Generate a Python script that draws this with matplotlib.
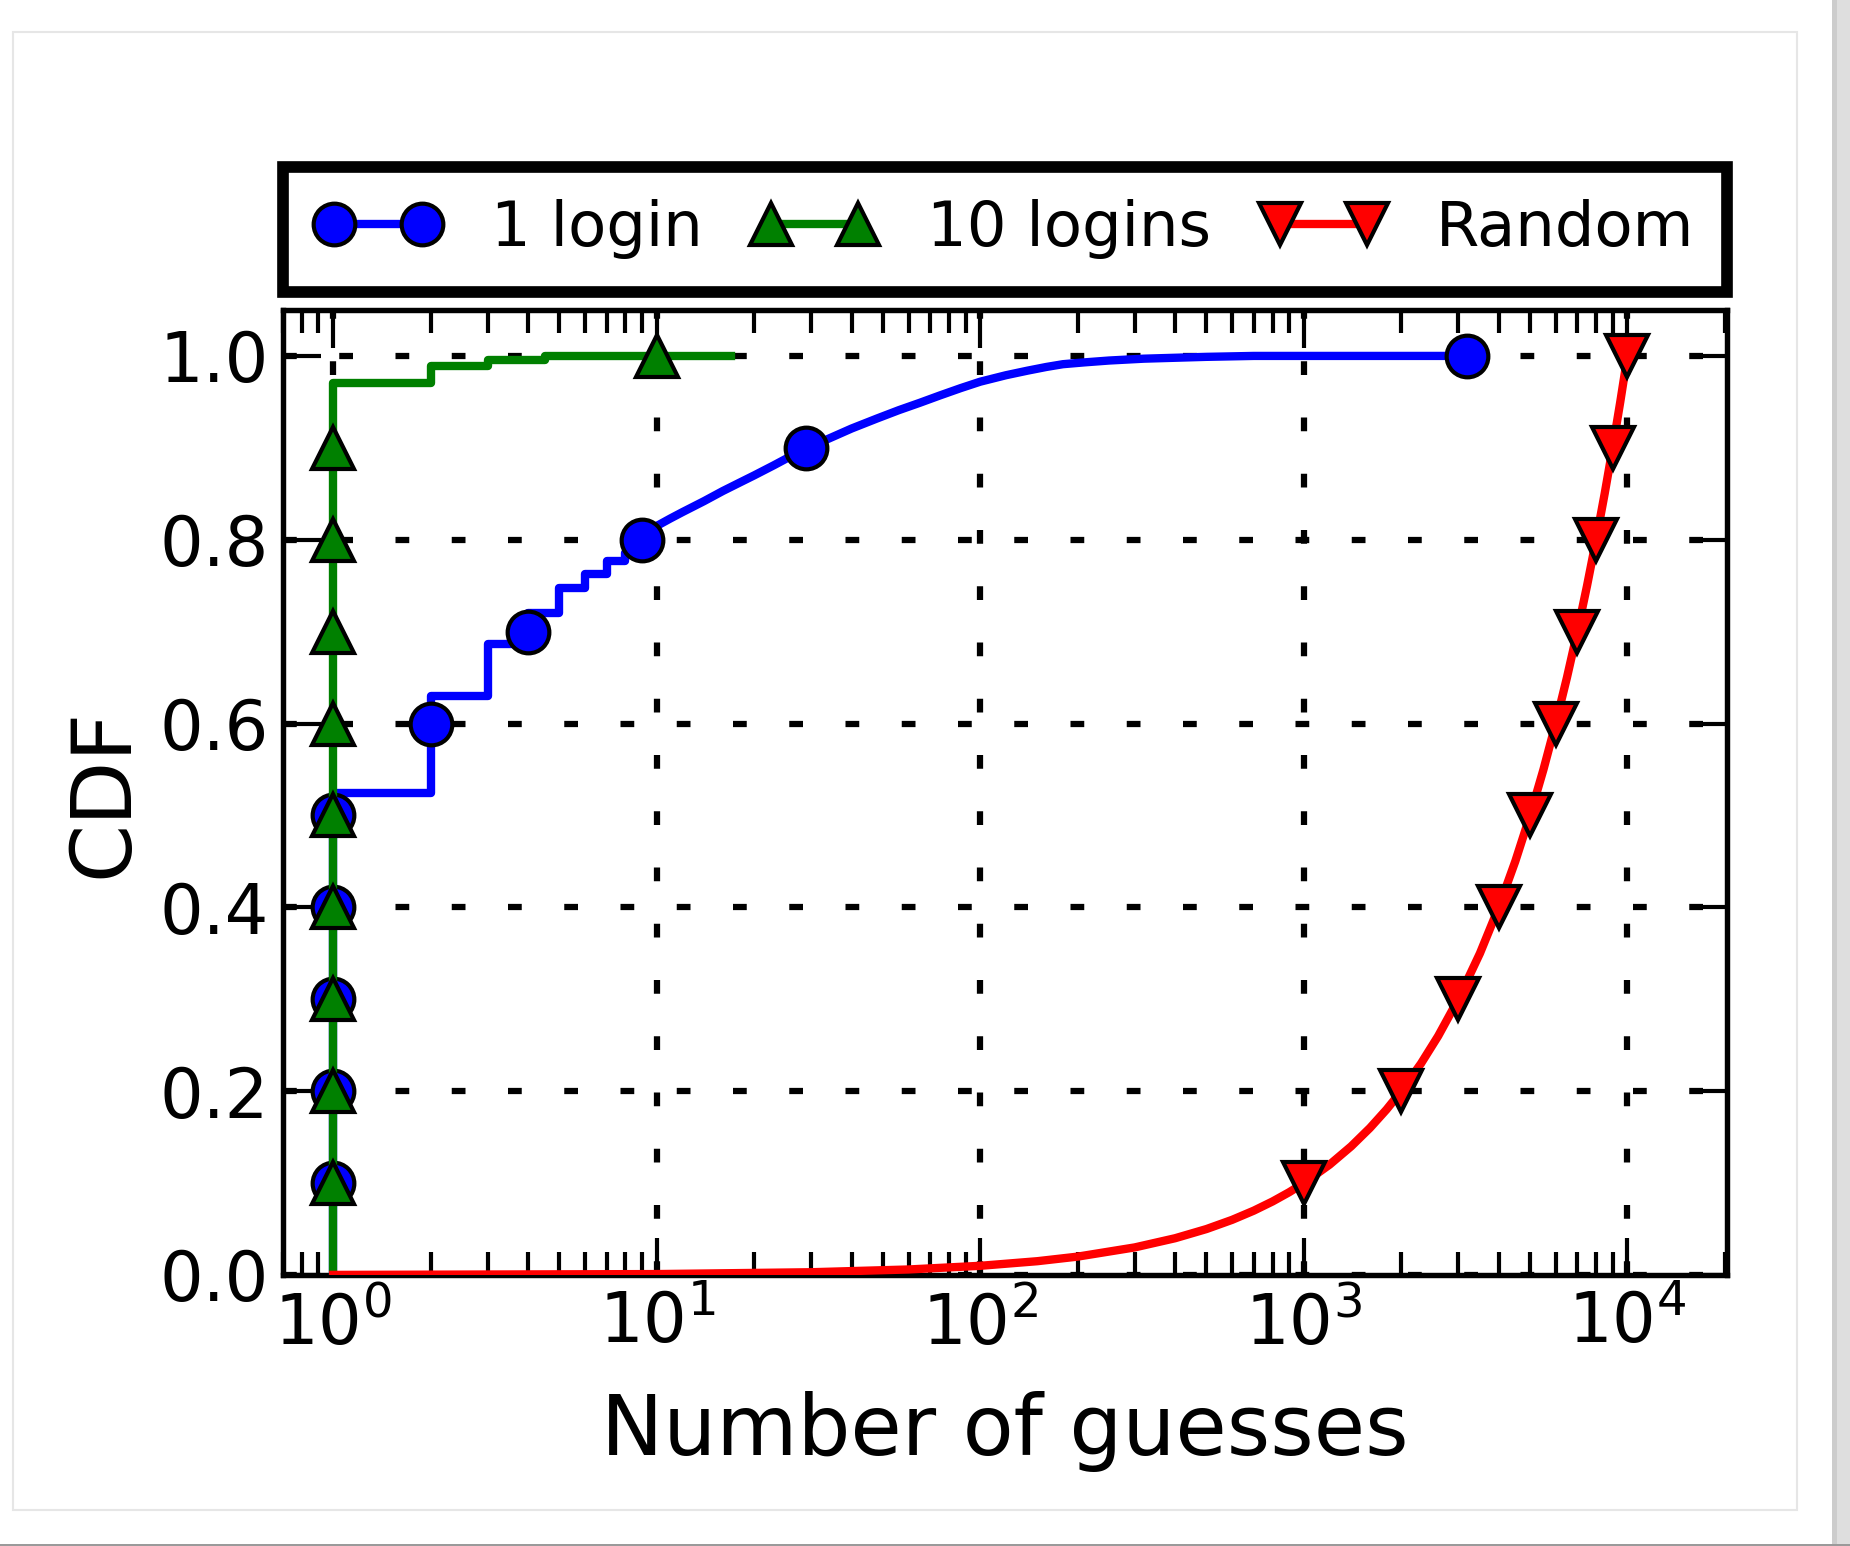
import matplotlib
matplotlib.use('agg')
import matplotlib.pyplot as plt
from matplotlib.lines import Line2D
from matplotlib.patches import Rectangle

# CDF of number of guesses
# 1 login: steps up to 10 guesses, then a smooth tail
one_step_x = [1, 1, 2, 3, 4, 5, 6, 7, 8, 9, 10]
one_step_y = [0, 0.524, 0.63, 0.687, 0.72, 0.748, 0.763, 0.777, 0.786, 0.806, 0.815]
one_tail_x = [10, 11, 12, 14, 16, 18, 20, 23, 26, 29, 33, 40, 48, 56, 65, 75, 87,
              100, 120, 140, 160, 180, 210, 250, 320, 400, 500, 700, 1000, 3200]
one_tail_y = [0.815, 0.823, 0.83, 0.842, 0.853, 0.862, 0.87, 0.881, 0.891, 0.9,
              0.908, 0.921, 0.932, 0.941, 0.949, 0.957, 0.965, 0.972, 0.979, 0.984,
              0.988, 0.991, 0.993, 0.995, 0.997, 0.998, 0.999, 1.0, 1.0, 1.0]
one_mx = [1, 1, 1, 1, 1, 2, 4, 9, 29, 3200]
one_my = [0.1, 0.2, 0.3, 0.4, 0.5, 0.6, 0.7, 0.8, 0.9, 1.0]

ten_x = [1, 1, 2, 3, 4.5, 17]
ten_y = [0, 0.97, 0.989, 0.996, 1.0, 1.0]
ten_mx = [1, 1, 1, 1, 1, 1, 1, 1, 1, 10]
ten_my = [0.1, 0.2, 0.3, 0.4, 0.5, 0.6, 0.7, 0.8, 0.9, 1.0]

rnd_x = [1, 10, 30, 60, 100, 150, 200, 300, 400, 500, 600, 700, 800, 900, 1000,
         1200, 1400, 1600, 1800, 2000, 2300, 2600, 3000, 3500, 4000, 4500, 5000,
         5500, 6000, 6500, 7000, 7500, 8000, 8500, 9000, 9500, 10000]
rnd_y = [0.0001, 0.001, 0.003, 0.006, 0.01, 0.015, 0.02, 0.03, 0.04, 0.05, 0.06,
         0.07, 0.08, 0.09, 0.1, 0.12, 0.14, 0.16, 0.18, 0.2, 0.23, 0.26, 0.3, 0.35,
         0.4, 0.45, 0.5, 0.55, 0.6, 0.65, 0.7, 0.75, 0.8, 0.85, 0.9, 0.95, 1.0]
rnd_mx = [1000, 2000, 3000, 4000, 5000, 6000, 7000, 8000, 9000, 10000]
rnd_my = [0.1, 0.2, 0.3, 0.4, 0.5, 0.6, 0.7, 0.8, 0.9, 1.0]

labels = ["1 login", "10 logins", "Random"]

plt.rcParams['font.family'] = ['DejaVu Sans']
plt.rcParams['mathtext.fontset'] = 'dejavusans'

fig = plt.figure(figsize=(1850 / 300, 1546 / 300), dpi=300)
ax = fig.add_axes([0.153, 0.1753, 0.7805, 0.6242])

lw = 2.0
ms = 10
mew = 1.0

ax.plot(one_step_x, one_step_y, color='b', lw=lw, drawstyle='steps-post', zorder=3)
ax.plot(one_tail_x, one_tail_y, color='b', lw=lw, zorder=3)
ax.plot(one_mx, one_my, ls='none', marker='o', ms=ms, mfc='b', mec='k', mew=mew, zorder=4)
ax.plot(ten_x, ten_y, color='g', lw=lw, drawstyle='steps-post', zorder=5)
ax.plot(ten_mx, ten_my, ls='none', marker='^', ms=ms, mfc='g', mec='k', mew=mew, zorder=6)
ax.plot(rnd_x, rnd_y, color='r', lw=lw, zorder=7)
ax.plot(rnd_mx, rnd_my, ls='none', marker='v', ms=ms, mfc='r', mec='k', mew=mew, zorder=8)

ax.set_xscale('log')
ax.set_xlim(0.7, 2.03e4)
ax.set_ylim(0, 1.05)
ax.set_yticks([0.0, 0.2, 0.4, 0.6, 0.8, 1.0])

# dotted grid, short dashes with wide gaps
ax.grid(True, which='major', color='k', lw=1.5, linestyle=(0, (2.2, 6.8)))
ax.set_axisbelow(True)
ax.tick_params(which='both', direction='in', top=True, right=True, width=1.0,
               labelsize=16.5, pad=3.5)
ax.tick_params(which='major', length=9)
ax.tick_params(which='minor', length=5.5)
for s in ax.spines.values():
    s.set_linewidth(1.3)

ax.set_xlabel("Number of guesses", fontsize=20, labelpad=8)
ax.set_ylabel("CDF", fontsize=20, labelpad=3.5)

handles = [
    Line2D([], [], color='b', lw=lw, marker='o', ms=ms, mfc='b', mec='k', mew=mew),
    Line2D([], [], color='g', lw=lw, marker='^', ms=ms, mfc='g', mec='k', mew=mew),
    Line2D([], [], color='r', lw=lw, marker='v', ms=ms, mfc='r', mec='k', mew=mew),
]
leg = ax.legend(handles, labels, loc='lower left', bbox_to_anchor=(0, 1.019, 1, 0.13),
                mode='expand', ncol=3, borderaxespad=0, numpoints=2, fontsize=15,
                fancybox=False, framealpha=1, edgecolor='k', handlelength=2.0,
                handletextpad=0.8, borderpad=0.52)
leg.get_frame().set_linewidth(2.8)

# card border and shadow of the screenshot
fig.add_artist(Rectangle((13 / 1850, 1 - 1510 / 1546), (1797 - 13) / 1850, (1510 - 32) / 1546,
                         transform=fig.transFigure, fill=False, edgecolor='#e6e6e6', lw=0.5))
fig.add_artist(Rectangle((1832 / 1850, 0), 5 / 1850, 1, transform=fig.transFigure,
                         color='#cccccc', lw=0))
fig.add_artist(Rectangle((1837 / 1850, 0), 13 / 1850, 1, transform=fig.transFigure,
                         color='#dedede', lw=0))
fig.add_artist(Rectangle((0, 0), 1, 2 / 1546, transform=fig.transFigure,
                         color='#9a9a9a', lw=0))

fig.savefig('out.png', dpi=300)
